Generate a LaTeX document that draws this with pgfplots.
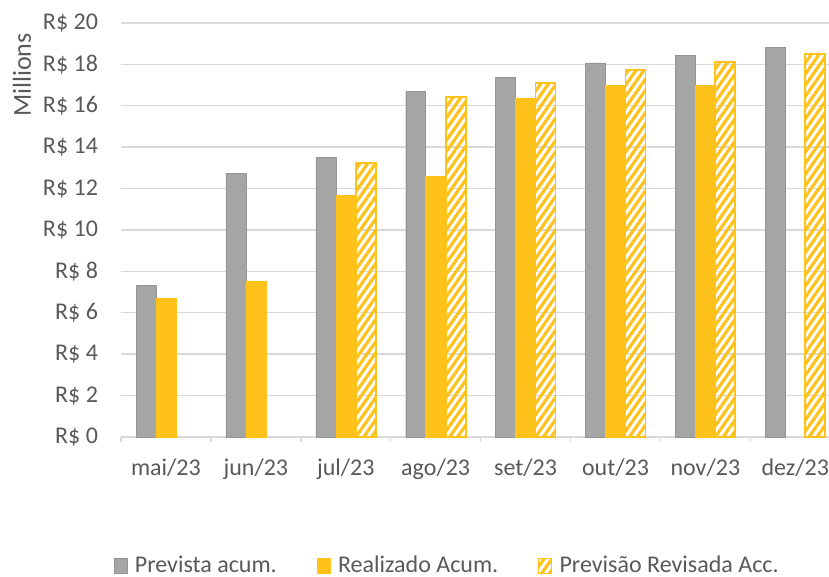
\documentclass[border=0pt]{standalone}
\usepackage{pgfplots}
\pgfplotsset{compat=1.18}
\usepackage{fontspec}
\setmainfont{Carlito}
\usetikzlibrary{patterns.meta}
\definecolor{cgray}{HTML}{A5A5A5}
\definecolor{cgold}{HTML}{FFC21A}
\definecolor{ctext}{HTML}{595959}
\definecolor{cgrid}{HTML}{D9D9D9}
\begin{document}
\begin{tikzpicture}
\useasboundingbox (-60.5pt,-70pt) rectangle (354pt,218.5pt);
\begin{axis}[
  at={(0,0)}, anchor=south west,
  scale only axis, width=354pt, height=207pt,
  xmin=-0.5, xmax=7.375, ymin=0, ymax=20,
  ytick={0,2,...,20},
  xtick={0,...,7},
  xticklabels={mai/23,jun/23,jul/23,ago/23,set/23,out/23,nov/23,dez/23},
  minor xtick={-0.5,0.5,...,7.5},
  major tick length=0pt, minor tick length=2.5pt,
  xtick pos=bottom, ytick pos=left, tick align=outside,
  minor tick style={cgrid, line width=0.7pt},
  axis x line*=bottom, axis y line*=left,
  x axis line style={cgrid, line width=0.7pt},
  y axis line style={draw=none},
  ymajorgrids, grid style={cgrid, line width=0.7pt},
  /pgf/number format/assume math mode=true,
  yticklabel={R\$ \pgfmathprintnumber{\tick}},
  ticklabel style={font=\fontsize{12}{14}\selectfont, text=ctext},
  yticklabel style={xshift=-8pt},
  xticklabel style={yshift=-7.5pt},
  ylabel={Millions},
  ylabel style={at={(axis description cs:-0.1398,0.874)}, anchor=center, font=\fontsize{13}{15}\selectfont, text=ctext},
  bar width=0.222,
  legend columns=-1,
  legend style={at={(axis description cs:0.462,-0.3116)}, anchor=center, draw=none, fill=none,
    font=\fontsize{12}{14}\selectfont, text=ctext,
    /tikz/every even column/.append style={column sep=18pt}},
  legend image code/.code={\draw[#1, line width=0.3pt] (0pt,-3.5pt) rectangle (6.5pt,4pt);
    \path[draw=none, fill=none, pattern=none] (0pt,0pt) -- (8.5pt,0pt);},
]
\addplot[ybar, bar shift=-0.222, fill=cgray, draw=cgray!90!black, line width=0.2pt]
  coordinates {(0,7.34) (1,12.75) (2,13.51) (3,16.71) (4,17.39) (5,18.07) (6,18.44) (7,18.81)};
\addlegendentry{Prevista acum.}
\addplot[ybar, bar shift=0, fill=cgold, draw=cgold, line width=0.2pt]
  coordinates {(0,6.70) (1,7.54) (2,11.69) (3,12.60) (4,16.36) (5,17.00) (6,17.00)};
\addlegendentry{Realizado Acum.}
\addplot[ybar, bar shift=0.222, draw=cgold, line width=0.9pt, fill=white,
  pattern={Lines[angle=55, distance=3.2pt, line width=1.6pt]}, pattern color=cgold]
  coordinates {(2,13.25) (3,16.42) (4,17.09) (5,17.73) (6,18.10) (7,18.49)};
\addlegendentry{Previsão Revisada Acc.}
\end{axis}
\end{tikzpicture}
\end{document}
